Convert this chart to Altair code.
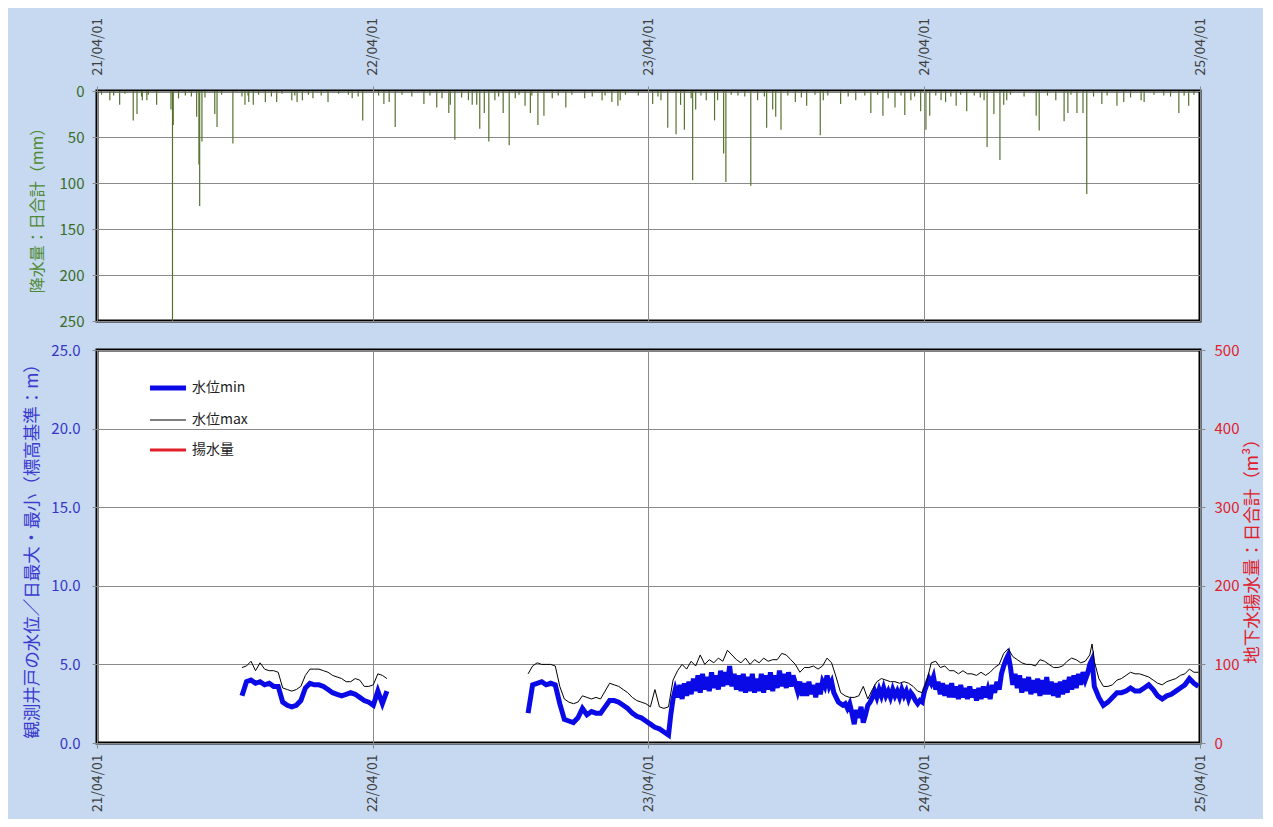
import altair as alt
import pandas as pd

START = "2021-04-01"
YEAR_TICKS = [2021, 2022, 2023, 2024, 2025]
SERIES = ["水位min", "水位max", "揚水量"]

# daily rainfall (days after 2021-04-01, mm)
rain_day = [17, 30, 48, 53, 60, 66, 79, 98, 100, 101, 132, 135, 136, 139, 156, 159, 180, 196, 201, 207,
            223, 238, 258, 265, 272, 286, 306, 338, 352, 380, 387, 395, 433, 450, 466, 468, 474, 497, 503, 507,
            513, 519, 527, 538, 546, 554, 567, 574, 584, 592, 603, 621, 646, 669, 682, 690, 693, 736, 747, 756,
            767, 773, 778, 789, 793, 807, 818, 822, 830, 833, 866, 875, 887, 895, 899, 906, 925, 940, 958, 962,
            985, 1005, 1025, 1041, 1057, 1070, 1078, 1091, 1098, 1103, 1118, 1124, 1138, 1152, 1175, 1179, 1188, 1196, 1201, 1205,
            1244, 1248, 1270, 1281, 1286, 1298, 1306, 1311, 1331, 1351, 1360, 1383, 1387, 1433, 1446,
            6, 22, 37, 59, 68, 108, 117, 125, 143, 165, 192, 200, 214, 231, 245, 262, 280, 297, 320, 333, 346,
            373, 404, 417, 441, 457, 483, 492, 532, 559, 576, 611, 629, 656, 673, 700, 717,
            743, 787, 800, 840, 849, 858, 884, 915, 933, 951, 968, 995, 1017, 1034, 1048, 1065, 1083,
            1111, 1131, 1144, 1162, 1170, 1210, 1228, 1259, 1290, 1320, 1338, 1369, 1400, 1413, 1422, 1440, 1453]
rain_mm = [10, 15, 32, 25, 10, 10, 15, 20, 250, 37, 28, 80, 125, 55, 25, 39, 57, 15, 12, 15,
           12, 12, 10, 12, 10, 8, 12, 8, 32, 14, 12, 39, 14, 18, 24, 15, 53, 15, 15, 41,
           24, 55, 10, 24, 59, 8, 16, 24, 37, 27, 8, 18, 8, 10, 12, 16, 10, 14, 10, 40,
           47, 15, 42, 97, 20, 10, 32, 10, 68, 99, 103, 10, 40, 20, 28, 42, 12, 16, 48, 10,
           14, 10, 24, 27, 18, 26, 10, 22, 42, 27, 10, 12, 16, 22, 10, 61, 25, 75, 15, 10,
           27, 43, 10, 33, 24, 24, 24, 112, 14, 16, 12, 10, 12, 24, 16,
           4, 5, 3, 6, 4, 8, 5, 6, 7, 4, 6, 5, 4, 6, 3, 5, 4, 5, 3, 4, 6,
           5, 4, 6, 5, 8, 7, 10, 6, 4, 5, 5, 4, 6, 5, 4, 5,
           6, 8, 5, 4, 5, 6, 6, 5, 7, 4, 5, 6, 5, 4, 8, 5, 6,
           5, 6, 4, 5, 7, 4, 6, 5, 4, 6, 5, 7, 4, 5, 6, 5, 4]

# water level, first record (days after 2021-04-01, m)
seg1_day = [192, 198, 204, 210, 216, 222, 228, 234, 240, 246, 252, 258, 264, 270, 276, 282, 288,
            294, 300, 306, 312, 318, 324, 330, 336, 342, 348, 354, 360, 366, 372, 378, 384]
seg1_max = [4.8, 4.9, 5.2, 4.6, 5.1, 4.7, 4.6, 4.6, 4.5, 3.5, 3.4, 3.3, 3.4, 3.6, 4.3, 4.7, 4.7,
            4.7, 4.6, 4.5, 4.3, 4.2, 4.1, 3.9, 3.9, 4.1, 4.0, 3.6, 3.6, 3.7, 4.4, 4.3, 4.1]
seg1_min = [3.0, 3.9, 4.0, 3.8, 3.9, 3.7, 3.8, 3.6, 3.6, 2.6, 2.4, 2.3, 2.4, 2.7, 3.5, 3.8, 3.7,
            3.7, 3.6, 3.4, 3.2, 3.1, 3.0, 3.1, 3.2, 3.1, 2.9, 2.7, 2.6, 2.4, 3.3, 2.5, 3.3]

# water level, second record: daily maximum
seg2_max_day = [571, 577, 583, 589, 595, 601, 607, 613, 619, 625,
                631, 637, 643, 649, 655, 661, 667, 673, 679, 685,
                691, 697, 703, 709, 715, 721, 727, 733, 739, 745,
                751, 757, 763, 769, 775, 781, 787, 793, 799, 805,
                811, 817, 823, 829, 835, 841, 847, 853, 859, 865,
                871, 877, 883, 889, 895, 901, 907, 913, 919, 925,
                931, 937, 943, 949, 955, 961, 967, 973, 979, 985,
                991, 997, 1003, 1009, 1015, 1021, 1027, 1033, 1039, 1045,
                1051, 1057, 1063, 1069, 1075, 1081, 1087, 1093, 1099, 1105,
                1111, 1117, 1123, 1129, 1135, 1141, 1147, 1153, 1159, 1165,
                1171, 1177, 1183, 1189, 1195, 1201, 1207, 1213, 1219, 1225,
                1231, 1237, 1243, 1249, 1255, 1261, 1267, 1273, 1279, 1285,
                1291, 1297, 1303, 1309, 1315, 1318, 1321, 1327, 1333, 1339,
                1345, 1351, 1357, 1363, 1369, 1375, 1381, 1387, 1393, 1399,
                1405, 1411, 1417, 1423, 1429, 1435, 1441, 1447, 1453, 1459]
seg2_max = [4.4, 4.9, 5.1, 5.0, 5.0, 5.0, 4.9, 3.6, 2.8, 2.6,
            2.5, 2.6, 3.0, 2.9, 2.8, 2.9, 2.8, 3.3, 3.8, 3.7,
            3.6, 3.4, 3.2, 2.9, 2.7, 2.6, 2.5, 2.3, 3.4, 2.3,
            2.2, 2.3, 4.0, 4.6, 5.0, 4.7, 5.2, 4.9, 5.6, 5.0,
            5.3, 5.1, 5.4, 5.2, 5.9, 5.6, 5.3, 5.1, 5.4, 5.0,
            5.3, 5.1, 5.4, 5.2, 5.3, 5.3, 5.7, 5.6, 5.3, 5.0,
            4.5, 4.8, 4.8, 4.9, 4.7, 4.9, 5.4, 5.1, 4.2, 3.2,
            3.0, 2.9, 2.9, 3.0, 3.6, 2.8, 3.4, 3.9, 4.1, 4.0,
            3.9, 3.9, 3.8, 3.9, 3.8, 3.6, 3.3, 3.2, 3.9, 5.1,
            5.2, 4.8, 4.9, 4.6, 4.6, 4.4, 4.6, 4.4, 4.4, 4.3,
            4.5, 4.3, 4.5, 4.8, 5.0, 5.7, 6.0, 5.5, 5.3, 5.1,
            5.0, 5.0, 4.9, 5.3, 5.2, 5.0, 4.8, 4.8, 4.9, 5.2,
            5.4, 5.3, 5.1, 5.2, 5.6, 6.3, 5.2, 4.1, 3.6, 3.6,
            3.7, 4.0, 4.1, 4.3, 4.5, 4.4, 4.4, 4.3, 4.2, 4.0,
            3.8, 3.7, 3.9, 4.0, 4.1, 4.3, 4.4, 4.7, 4.5, 4.5]

# water level, second record: daily minimum (denser where the record is noisy)
seg2_min_day = [571, 577, 583, 589, 595, 601, 607, 613, 619, 625,
                631, 637, 643, 649, 655, 661, 667, 673, 679, 685,
                691, 697, 703, 709, 715, 721, 727, 733, 739, 745,
                751, 757,
                760, 763, 766, 769, 772, 775, 778, 781, 784, 787,
                790, 793, 796, 799, 802, 805, 808, 811, 814, 817,
                820, 823, 826, 829, 832, 835, 838, 841, 844, 847,
                850, 853, 856, 859, 862, 865, 868, 871, 874, 877,
                880, 883, 886, 889, 892, 895, 898, 901, 904, 907,
                910, 913, 916, 919, 922, 925, 928, 931, 934, 937,
                940, 943, 946, 949, 952, 955, 958, 961, 964, 967,
                970, 973, 976, 979, 982, 985, 988, 991, 994, 997,
                1000, 1003, 1006, 1009, 1012, 1015, 1018, 1021, 1024, 1027,
                1030, 1033, 1036, 1039, 1042, 1045, 1048, 1051, 1054, 1057,
                1060, 1063, 1066, 1069, 1072, 1075, 1078, 1081, 1084, 1087,
                1090, 1093, 1096, 1099, 1102, 1105, 1108, 1111, 1114, 1117,
                1120, 1123, 1126, 1129, 1132, 1135, 1138, 1141, 1144, 1147,
                1150, 1153, 1156, 1159, 1162, 1165, 1168, 1171, 1174, 1177,
                1180, 1183, 1186, 1189, 1192, 1195, 1198, 1201, 1204, 1207,
                1210, 1213, 1216, 1219, 1222, 1225, 1228, 1231, 1234, 1237,
                1240, 1243, 1246, 1249, 1252, 1255, 1258, 1261, 1264, 1267,
                1270, 1273, 1276, 1279, 1282, 1285, 1288, 1291, 1294, 1297,
                1300, 1303, 1306, 1309, 1312, 1315, 1318,
                1321, 1327, 1333, 1339, 1345, 1351, 1357, 1363, 1369, 1375,
                1381, 1387, 1393, 1399, 1405, 1411, 1417, 1423, 1429, 1435,
                1441, 1447, 1453, 1459]
seg2_min = [1.9, 3.7, 3.8, 3.9, 3.7, 3.8, 3.7, 2.5, 1.5, 1.4,
            1.3, 1.6, 2.2, 1.8, 2.0, 1.9, 1.9, 2.3, 2.7, 2.7,
            2.6, 2.4, 2.2, 1.9, 1.7, 1.6, 1.4, 1.2, 1.0, 0.9,
            0.7, 0.5,
            1.8, 2.8, 3.4, 2.9, 3.7, 2.8, 3.8, 3.0, 3.9, 3.1,
            4.1, 3.3, 4.3, 3.2, 4.4, 3.4, 4.2, 3.3, 4.5, 3.5,
            4.3, 3.4, 4.6, 3.6, 4.5, 3.7, 4.9, 3.6, 4.4, 3.4,
            4.3, 3.3, 4.4, 3.2, 4.2, 3.3, 4.4, 3.2, 4.1, 3.3,
            4.4, 3.2, 4.3, 3.4, 4.5, 3.3, 4.3, 3.5, 4.6, 3.6,
            4.4, 3.5, 4.5, 3.6, 4.3, 3.8, 3.3, 3.9, 3.0, 3.8,
            3.0, 3.9, 3.1, 3.7, 2.9, 3.8, 3.1, 3.9, 3.6, 4.3,
            3.6, 3.9, 3.2, 2.9, 2.6, 2.5, 2.4, 2.5, 2.2, 2.5,
            1.9, 1.2, 2.1, 1.6, 2.3, 1.3, 1.8, 2.4, 2.6, 2.9,
            3.3, 2.9, 3.4, 3.0, 3.5, 3.0, 3.3, 2.9, 3.4, 3.0,
            3.3, 2.9, 3.4, 3.0, 3.3, 2.8, 3.2, 3.0, 2.7, 2.5,
            2.7, 2.6, 3.3, 3.7, 4.1, 3.8, 4.2, 3.4, 3.9, 3.1,
            3.8, 3.0, 3.7, 2.9, 3.8, 2.9, 3.6, 2.8, 3.7, 2.9,
            3.5, 2.8, 3.6, 2.9, 3.4, 2.7, 3.5, 2.8, 3.6, 2.9,
            3.4, 2.8, 3.7, 3.2, 3.9, 3.4, 4.4, 4.9, 5.3, 5.6,
            4.8, 3.7, 4.4, 3.5, 4.3, 3.2, 4.1, 3.3, 4.2, 3.1,
            4.0, 3.2, 4.1, 3.0, 4.0, 3.1, 4.2, 3.1, 3.9, 3.0,
            3.8, 2.9, 3.9, 3.1, 4.0, 3.2, 4.2, 3.4, 4.3, 3.5,
            4.4, 3.7, 4.5, 4.0, 4.4, 5.0, 5.3,
            3.6, 2.9, 2.4, 2.6, 2.9, 3.2, 3.2, 3.3, 3.5, 3.3,
            3.3, 3.5, 3.7, 3.4, 3.0, 2.8, 3.0, 3.1, 3.3, 3.5,
            3.7, 4.1, 3.8, 3.6]

# pumping volume: no values drawn in the reference
pump_day = []
pump_m3 = []

FONT = "Noto Sans CJK JP"
BG = "#c6d9f1"
GRID = "#8a8a8a"
BLUE = "#0a0ae6"
RED = "#e0202a"


def to_date(days):
    return pd.Timestamp(START) + pd.to_timedelta(pd.Series(days, dtype="float64"), unit="D")


rain_df = pd.DataFrame({"date": to_date(rain_day), "mm": rain_mm})
rain_df["zero"] = 0

parts = []
for seg, days, vals in [("a", seg1_day, seg1_min), ("b", seg2_min_day, seg2_min)]:
    parts.append(pd.DataFrame({"date": to_date(days), "level": vals, "series": "水位min", "seg": seg}))
for seg, days, vals in [("a", seg1_day, seg1_max), ("b", seg2_max_day, seg2_max)]:
    parts.append(pd.DataFrame({"date": to_date(days), "level": vals, "series": "水位max", "seg": seg}))
level_df = pd.concat(parts, ignore_index=True)

pump_df = pd.DataFrame({"date": to_date(pump_day), "m3": pd.Series(pump_m3, dtype="float64")})

tick_vals = [alt.DateTime(year=y, month=4, date=1) for y in YEAR_TICKS]
x_scale = alt.Scale(domain=[tick_vals[0], tick_vals[-1]])


def x_axis(orient):
    return alt.Axis(
        orient=orient, values=tick_vals, format="%y/%m/%d", labelAngle=270,
        labelAlign="left" if orient == "top" else "right", labelBaseline="middle",
        labelFontSize=14, labelColor="#404040", labelPadding=11 if orient == "top" else 6,
        labelFlush=False, labelOverlap=False, tickSize=5, tickColor=GRID, grid=True,
        gridColor=GRID, gridOpacity=1, domain=False, title=None,
    )


top = alt.Chart(rain_df).mark_rule(color="#56722f", strokeWidth=1.2, clip=True).encode(
    x=alt.X("date:T", scale=x_scale, axis=x_axis("top")),
    y=alt.Y("mm:Q", scale=alt.Scale(domain=[0, 250], reverse=True, nice=False),
            axis=alt.Axis(values=[0, 50, 100, 150, 200, 250], labelFontSize=15,
                          labelColor="#3a6b25", labelPadding=8, tickSize=5, tickColor=GRID,
                          grid=True, gridColor=GRID, gridOpacity=1, domain=False,
                          title="降水量：日合計（mm）", titleColor="#4f8a35", titleFontSize=16,
                          titleFontWeight="normal", titlePadding=14)),
    y2="zero:Q",
).properties(width=1103, height=230)

legend_kw = dict(title=None, orient="none", legendX=50, legendY=276, symbolType="stroke",
                 symbolSize=1300, labelFontSize=14, labelColor="#222222", rowPadding=3,
                 labelOffset=3, padding=0)

lines = alt.Chart(level_df).mark_line(clip=True).encode(
    x=alt.X("date:T", scale=x_scale, axis=x_axis("bottom")),
    y=alt.Y("level:Q", scale=alt.Scale(domain=[0, 25], nice=False),
            axis=alt.Axis(values=[0, 5, 10, 15, 20, 25], format=".1f", labelFontSize=15,
                          labelColor="#3535c8", labelPadding=12, tickSize=5, tickColor=GRID,
                          grid=True, gridColor=GRID, gridOpacity=1, domain=False,
                          title="観測井戸の水位／日最大・最小（標高基準：m）", titleColor="#3b3bd0",
                          titleFontSize=17.5, titleFontWeight="normal", titlePadding=9)),
    color=alt.Color("series:N", scale=alt.Scale(domain=SERIES, range=[BLUE, "#000000", RED]),
                    legend=alt.Legend(**legend_kw)),
    strokeWidth=alt.StrokeWidth("series:N",
                                scale=alt.Scale(type="ordinal", domain=SERIES, range=[5, 1, 3]),
                                legend=alt.Legend(**legend_kw)),
    detail="seg:N",
)

pump = alt.Chart(pump_df).mark_line(color=RED, strokeWidth=2, clip=True).encode(
    x=alt.X("date:T", scale=x_scale),
    y=alt.Y("m3:Q", scale=alt.Scale(domain=[0, 500], nice=False),
            axis=alt.Axis(orient="right", values=[0, 100, 200, 300, 400, 500], labelFontSize=15,
                          labelColor=RED, labelPadding=9, tickSize=5, tickColor=GRID, grid=False,
                          domain=False, title="地下水揚水量：日合計（m³）", titleColor=RED,
                          titleFontSize=17.5, titleFontWeight="normal", titleAngle=270,
                          titleBaseline="top", titlePadding=5)),
)

bottom = alt.layer(lines, pump).resolve_scale(y="independent").properties(width=1103, height=393)

chart = alt.vconcat(top, bottom, spacing=10).configure(
    background=BG, font=FONT, padding={"left": 14, "top": 7, "right": 0, "bottom": 5}
).configure_view(stroke="#000000", strokeWidth=3, fill="white")

chart.save("out.html", embed_options={"renderer": "svg", "actions": False})
